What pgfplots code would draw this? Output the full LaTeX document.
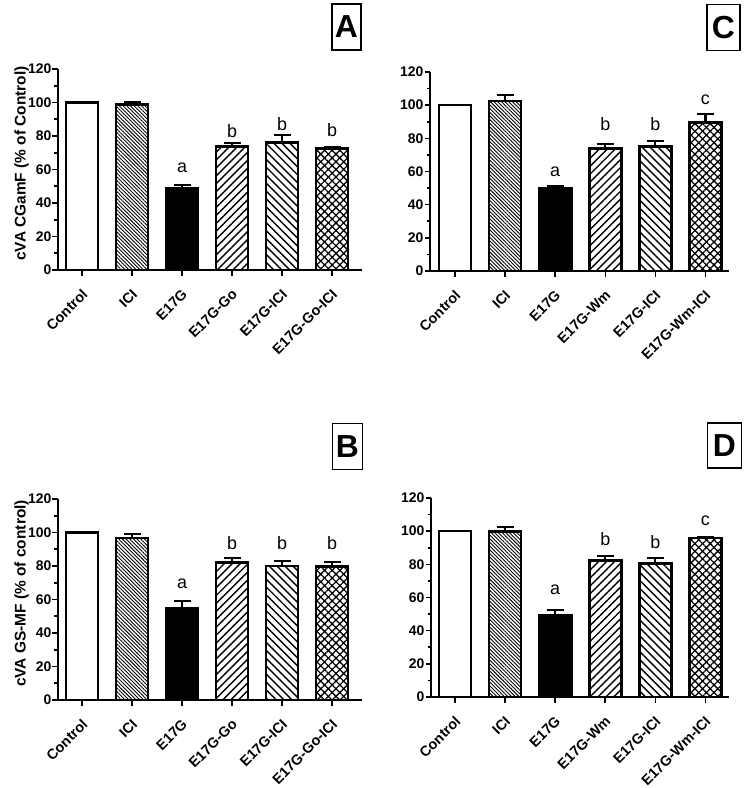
\documentclass[border=0pt]{standalone}
\usepackage{fontspec}
\setmainfont{Liberation Sans}
\usepackage{pgfplots}
\pgfplotsset{compat=1.18}
\usetikzlibrary{patterns.meta}

\pgfplotsset{
  panel/.style={
    scale only axis,
    anchor=south west,
    axis lines=left,
    axis line style={-, line width=2bp},
    ymin=0, ymax=120,
    ytick={0,20,...,120},
    minor y tick num=1,
    xtick={0,...,5},
    tick align=outside,
    major tick length=5.5bp,
    minor tick length=3.5bp,
    every tick/.style={black, line width=1.6bp},
    /pgf/number format/assume math mode=true,
    yticklabel style={font=\bfseries\fontsize{14}{14}\selectfont, inner xsep=1bp},
    xticklabel style={xshift=-1bp, yshift=-12.5bp, rotate=45, anchor=north east,
      inner sep=0pt, font=\bfseries\fontsize{14.4}{14.4}\selectfont},
    every axis y label/.style={at={(axis description cs:-0.12,0.53)},
      rotate=90, anchor=center, font=\bfseries\fontsize{15.5}{15.5}\selectfont},
    clip=false,
  },
  mybar/.style={ybar, bar width=32bp, bar shift=0pt, draw=black, line width=2.6bp,
    error bars/y dir=plus, error bars/y explicit,
    error bars/error mark options={black, line width=2.2bp, mark size=8.5bp, rotate=90},
    error bars/error bar style={black, line width=2.2bp}},
  dense/.style={pattern={Lines[angle=-45,distance=2.6bp,line width=0.9bp]}},
  fwd/.style={pattern={Lines[angle=45,distance=5.6bp,line width=1.4bp]}},
  back/.style={pattern={Lines[angle=-45,distance=5.6bp,line width=1.4bp]}},
  cross/.style={pattern={Lines[angle=45,distance=5.4bp,line width=1.3bp]},
    postaction={pattern={Lines[angle=-45,distance=5.4bp,line width=1.3bp]}}},
}
\newcommand{\sig}{\fontsize{18}{18}\selectfont}

\begin{document}
\begin{tikzpicture}
\path[use as bounding box] (0,0) rectangle (745bp,-788bp);

% A
\begin{axis}[panel, at={(58bp,-270bp)}, width=304bp, height=201bp,
  xmin=-0.48, xmax=5.6,
  xticklabels={Control,ICI,E17G,E17G-Go,E17G-ICI,E17G-Go-ICI},
  ylabel={cVA CGamF (\% of Control)}]
  \addplot[mybar, fill=white] coordinates {(0,100) +- (0,0)};
  \addplot[mybar, dense] coordinates {(1,98.7) +- (0,1.4)};
  \addplot[mybar, fill=black] coordinates {(2,48.5) +- (0,2.2)};
  \addplot[mybar, fwd] coordinates {(3,73.8) +- (0,2.1)};
  \addplot[mybar, back] coordinates {(4,76) +- (0,4.5)};
  \addplot[mybar, cross] coordinates {(5,72.4) +- (0,0.8)};
  \node[anchor=base, font=\sig] at (axis cs:2,58) {a};
  \node[anchor=base, font=\sig] at (axis cs:3,79) {b};
  \node[anchor=base, font=\sig] at (axis cs:4,83) {b};
  \node[anchor=base, font=\sig] at (axis cs:5,79.6) {b};
\end{axis}

% C
\begin{axis}[panel, at={(430bp,-271bp)}, width=299bp, height=199bp,
  xmin=-0.5, xmax=5.47,
  xticklabels={Control,ICI,E17G,E17G-Wm,E17G-ICI,E17G-Wm-ICI}]
  \addplot[mybar, fill=white] coordinates {(0,100) +- (0,0)};
  \addplot[mybar, dense] coordinates {(1,102.5) +- (0,3.5)};
  \addplot[mybar, fill=black] coordinates {(2,49.9) +- (0,1.4)};
  \addplot[mybar, fwd] coordinates {(3,74) +- (0,2.4)};
  \addplot[mybar, back] coordinates {(4,75) +- (0,3.6)};
  \addplot[mybar, cross] coordinates {(5,89.7) +- (0,4.8)};
  \node[anchor=base, font=\sig] at (axis cs:2,57) {a};
  \node[anchor=base, font=\sig] at (axis cs:3,84.6) {b};
  \node[anchor=base, font=\sig] at (axis cs:4,84.6) {b};
  \node[anchor=base, font=\sig] at (axis cs:5,100.5) {c};
\end{axis}

% B
\begin{axis}[panel, at={(58bp,-700bp)}, width=304bp, height=201bp,
  xmin=-0.48, xmax=5.6,
  xticklabels={Control,ICI,E17G,E17G-Go,E17G-ICI,E17G-Go-ICI},
  ylabel={cVA GS-MF (\% of control)}]
  \addplot[mybar, fill=white] coordinates {(0,100) +- (0,0)};
  \addplot[mybar, dense] coordinates {(1,96.7) +- (0,2.4)};
  \addplot[mybar, fill=black] coordinates {(2,54.7) +- (0,4.2)};
  \addplot[mybar, fwd] coordinates {(3,82.2) +- (0,2.4)};
  \addplot[mybar, back] coordinates {(4,80) +- (0,3.2)};
  \addplot[mybar, cross] coordinates {(5,79.8) +- (0,2.8)};
  \node[anchor=base, font=\sig] at (axis cs:2,66.7) {a};
  \node[anchor=base, font=\sig] at (axis cs:3,89.6) {b};
  \node[anchor=base, font=\sig] at (axis cs:4,89.6) {b};
  \node[anchor=base, font=\sig] at (axis cs:5,89.6) {b};
\end{axis}

% D
\begin{axis}[panel, at={(431bp,-697bp)}, width=298bp, height=199bp,
  xmin=-0.48, xmax=5.47,
  xticklabels={Control,ICI,E17G,E17G-Wm,E17G-ICI,E17G-Wm-ICI}]
  \addplot[mybar, fill=white] coordinates {(0,100) +- (0,0)};
  \addplot[mybar, dense] coordinates {(1,99.9) +- (0,2.4)};
  \addplot[mybar, fill=black] coordinates {(2,49) +- (0,3.7)};
  \addplot[mybar, fwd] coordinates {(3,82.2) +- (0,2.6)};
  \addplot[mybar, back] coordinates {(4,80.6) +- (0,3.2)};
  \addplot[mybar, cross] coordinates {(5,95.9) +- (0,0.6)};
  \node[anchor=base, font=\sig] at (axis cs:2,62) {a};
  \node[anchor=base, font=\sig] at (axis cs:3,91.3) {b};
  \node[anchor=base, font=\sig] at (axis cs:4,89.7) {b};
  \node[anchor=base, font=\sig] at (axis cs:5,103.6) {c};
\end{axis}

% panel letters
\node[draw, line width=1.3bp, minimum width=29bp, minimum height=46bp, inner sep=0pt,
  font=\bfseries\fontsize{32}{32}\selectfont] at (346.5bp,-27bp) {A};
\node[draw, line width=1.3bp, minimum width=33bp, minimum height=46bp, inner sep=0pt,
  font=\bfseries\fontsize{32}{32}\selectfont] at (723.5bp,-27.5bp) {C};
\node[draw, line width=1.3bp, minimum width=30bp, minimum height=46bp, inner sep=0pt,
  font=\bfseries\fontsize{32}{32}\selectfont] at (347.5bp,-446.3bp) {B};
\node[draw, line width=1.3bp, minimum width=34bp, minimum height=45bp, inner sep=0pt,
  font=\bfseries\fontsize{32}{32}\selectfont] at (724.5bp,-445.5bp) {D};
\end{tikzpicture}
\end{document}
